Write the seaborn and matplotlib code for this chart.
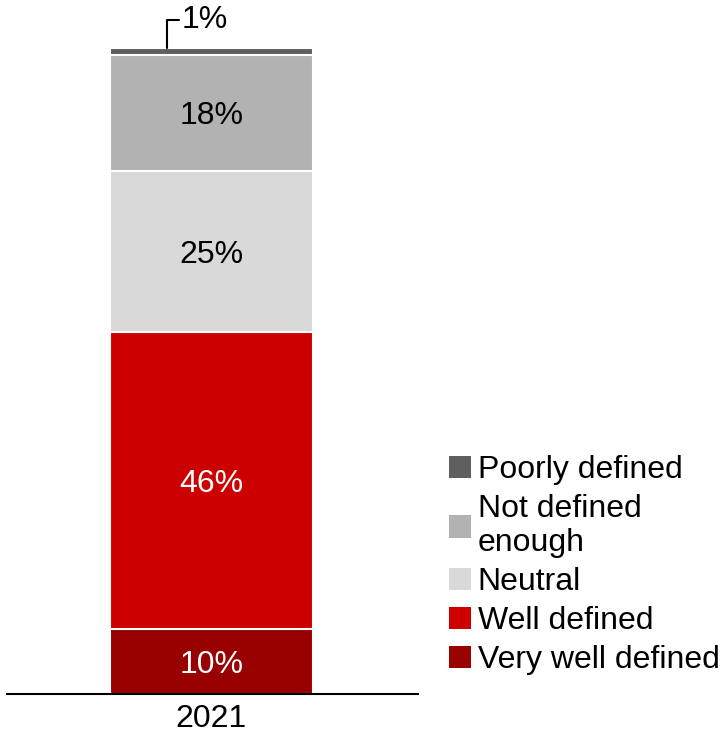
import matplotlib
matplotlib.use("Agg")
import matplotlib.pyplot as plt
import seaborn as sns
import pandas as pd
import numpy as np
from matplotlib.patches import Patch

sns.set_style("white")
plt.rcParams['font.family'] = ['Liberation Sans', 'DejaVu Sans']
plt.rcParams['text.color'] = 'black'
plt.rcParams['xtick.color'] = 'black'

year = "2021"
categories = ["Very well defined", "Well defined", "Neutral", "Not defined enough", "Poorly defined"]
values = [10, 46, 25, 18, 1]
legend_labels = ["Poorly defined", "Not defined\nenough", "Neutral", "Well defined", "Very well defined"]
colors = {"Very well defined": "#990000", "Well defined": "#cc0000", "Neutral": "#d9d9d9",
          "Not defined enough": "#b2b2b2", "Poorly defined": "#5f5f5f"}
label_colors = {"Very well defined": "white", "Well defined": "white", "Neutral": "black",
                "Not defined enough": "black", "Poorly defined": "black"}

df = pd.DataFrame({"category": categories, "value": values})
df["top"] = df["value"].cumsum()
df["mid"] = df["top"] - df["value"] / 2
df["year"] = year

FS = 23

fig = plt.figure(figsize=(7.23, 7.34), dpi=100)
ax = fig.add_axes([7 / 723, 1 - 694 / 734, 411 / 723, 664 / 734])

# draw cumulative bars from tallest to shortest so they stack visually
for _, row in df.iloc[::-1].iterrows():
    sns.barplot(data=pd.DataFrame({"year": [year], "top": [row["top"]]}), x="year", y="top",
                color=colors[row["category"]], width=0.5, edgecolor="white", linewidth=1.5,
                saturation=1, ax=ax, errorbar=None)

for _, row in df.iterrows():
    if row["value"] >= 5:
        ax.text(0, row["mid"], f"{row['value']}%", ha="center", va="center_baseline",
                fontsize=FS, color=label_colors[row["category"]])

# small-segment callout
small = df[df["value"] < 5].iloc[0]
ax.annotate(f"{small['value']}%", xy=(-0.11, small["top"]), xytext=(-0.073, small["top"] + 4.3),
            ha="left", va="center", fontsize=FS, annotation_clip=False, color="black",
            arrowprops=dict(arrowstyle="-", color="black", lw=1.5, shrinkA=0, shrinkB=0,
                            relpos=(0, 0.5), connectionstyle="angle,angleA=0,angleB=90,rad=0"))

ax.set_xlim(-0.504, 0.509)
ax.set_ylim(0, 102.8)
ax.set_xlabel("")
ax.set_ylabel("")
ax.set_yticks([])
for s in ["left", "right", "top"]:
    ax.spines[s].set_visible(False)
ax.spines["bottom"].set_color("black")
ax.spines["bottom"].set_linewidth(1.5)
ax.tick_params(axis="x", length=0, pad=7, labelsize=FS, labelcolor="black")

handles = [Patch(facecolor=colors[c], edgecolor="none") for c in categories[::-1]]
fig.legend(handles, legend_labels, loc="lower left", bbox_to_anchor=(449 / 723, 0.08),
           bbox_transform=fig.transFigure, frameon=False, fontsize=FS,
           handlelength=0.7, handleheight=0.7, handletextpad=0.2, labelspacing=0.28,
           borderpad=0, borderaxespad=0)

fig.savefig("out.png", dpi=100)
